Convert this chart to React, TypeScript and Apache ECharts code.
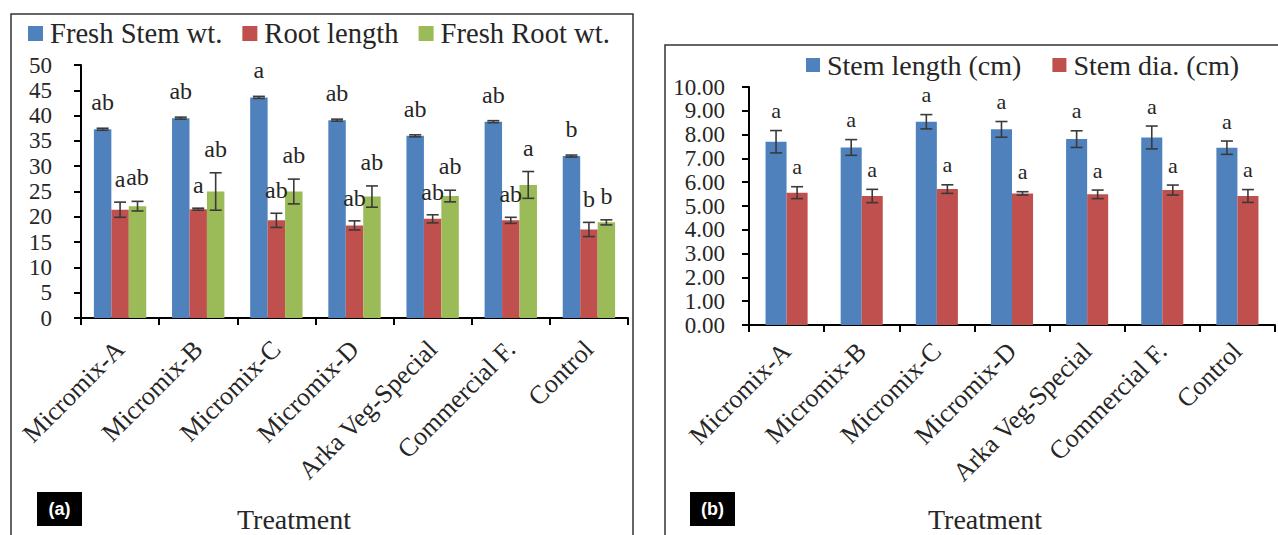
import React, { useEffect, useRef } from "react";
import * as echarts from "echarts";

const categories = ["Micromix-A", "Micromix-B", "Micromix-C", "Micromix-D", "Arka Veg-Special", "Commercial F.", "Control"];

// Panel (a)
const freshStemWt = [37.3, 39.5, 43.6, 39.1, 36.0, 38.8, 32.0];
const freshStemWtErr = [0.2, 0.2, 0.2, 0.2, 0.2, 0.2, 0.2];
const freshStemWtLetters = ["ab", "ab", "a", "ab", "ab", "ab", "b"];
const rootLength = [21.4, 21.5, 19.3, 18.3, 19.6, 19.3, 17.5];
const rootLengthErr = [1.5, 0.2, 1.4, 0.9, 0.8, 0.6, 1.4];
const rootLengthLetters = ["a", "a", "ab", "ab", "ab", "ab", "b"];
const freshRootWt = [22.1, 25.0, 25.0, 24.0, 24.1, 26.3, 18.9];
const freshRootWtErr = [0.95, 3.7, 2.45, 2.1, 1.15, 2.65, 0.5];
const freshRootWtLetters = ["ab", "ab", "ab", "ab", "ab", "a", "b"];

// Panel (b)
const stemLength = [7.7, 7.46, 8.54, 8.22, 7.81, 7.88, 7.45];
const stemLengthErr = [0.47, 0.33, 0.3, 0.33, 0.35, 0.48, 0.28];
const stemLengthLetters = ["a", "a", "a", "a", "a", "a", "a"];
const stemDia = [5.56, 5.42, 5.71, 5.53, 5.49, 5.67, 5.42];
const stemDiaErr = [0.25, 0.28, 0.18, 0.07, 0.18, 0.21, 0.27];
const stemDiaLetters = ["a", "a", "a", "a", "a", "a", "a"];

const BLUE = "#4F81BD";
const RED = "#C0504D";
const GREEN = "#9BBB59";
const SERIF = "Liberation Serif";
const TEXT = "#262626";

function errSeries(values: number[], errs: number[], letters: string[], axis: number, offsetFrac: number, labelOffset: number, fontSize: number) {
  return {
    type: "custom",
    xAxisIndex: axis,
    yAxisIndex: axis,
    silent: true,
    z: 10,
    data: values.map((v, i) => [i, v, errs[i]]),
    encode: { x: 0, y: 1 },
    renderItem: (params: any, api: any) => {
      const i = api.value(0);
      const v = api.value(1);
      const e = api.value(2);
      const top = api.coord([i, v + e]);
      const bot = api.coord([i, v - e]);
      const band = api.size([1, 0])[0];
      const x = top[0] + offsetFrac * band;
      const cap = 6;
      const ls = { stroke: "#3a3a3a", lineWidth: 1.6 };
      return {
        type: "group",
        children: [
          { type: "line", shape: { x1: x, y1: top[1], x2: x, y2: bot[1] }, style: ls },
          { type: "line", shape: { x1: x - cap, y1: top[1], x2: x + cap, y2: top[1] }, style: ls },
          { type: "line", shape: { x1: x - cap, y1: bot[1], x2: x + cap, y2: bot[1] }, style: ls },
          {
            type: "text",
            x: x,
            y: top[1] - labelOffset,
            style: {
              text: letters[params.dataIndex],
              fill: TEXT,
              fontSize: fontSize,
              fontFamily: SERIF,
              align: "center",
              verticalAlign: "middle",
            },
          },
        ],
      };
    },
  };
}

const App: React.FC = () => {
  const ref = useRef<HTMLDivElement>(null);
  useEffect(() => {
    if (!ref.current) return;
    const chart = echarts.init(ref.current, undefined, { renderer: "svg" });
    const axisLine = { show: true, lineStyle: { color: "#000", width: 2 } };
    const axisTick = { show: true, length: 7, lineStyle: { color: "#000", width: 2 } };
    const xAxisCommon = (idx: number, margin: number) => ({
      type: "category",
      gridIndex: idx,
      data: categories,
      axisLine,
      axisTick: { ...axisTick, interval: 0 },
      axisLabel: {
        rotate: 45,
        interval: 0,
        margin: margin,
        fontSize: 26,
        fontFamily: SERIF,
        color: TEXT,
        hideOverlap: false,
      },
      splitLine: { show: false },
    });
    const bw = (1 - 0.33) / 3;
    const option: any = {
      animation: false,
      backgroundColor: "#fff",
      textStyle: { fontFamily: SERIF },
      grid: [
        { left: 81, top: 65, width: 547, height: 253, containLabel: false },
        { left: 749, top: 87, width: 526, height: 238, containLabel: false },
      ],
      legend: [
        {
          left: 28,
          top: 19,
          padding: 0,
          itemWidth: 15,
          itemHeight: 15,
          itemGap: 20,
          icon: "rect",
          data: ["Fresh Stem wt.", "Root length", "Fresh Root wt."],
          textStyle: { fontSize: 28.6, fontFamily: SERIF, color: TEXT, padding: [0, 0, 0, 2] },
        },
        {
          left: 806,
          top: 51,
          padding: 0,
          itemWidth: 14,
          itemHeight: 14,
          itemGap: 31,
          icon: "rect",
          data: ["Stem length (cm)", "Stem dia. (cm)"],
          textStyle: { fontSize: 28, fontFamily: SERIF, color: TEXT, padding: [0, 0, 0, 2] },
        },
      ],
      xAxis: [xAxisCommon(0, 27), xAxisCommon(1, 22)],
      yAxis: [
        {
          type: "value",
          gridIndex: 0,
          min: 0,
          max: 50,
          interval: 5,
          axisLine,
          axisTick: { ...axisTick, length: 7 },
          axisLabel: { fontSize: 23, fontFamily: SERIF, color: TEXT, margin: 29, showMinLabel: true, showMaxLabel: true, hideOverlap: false },
          splitLine: { show: false },
        },
        {
          type: "value",
          gridIndex: 1,
          min: 0,
          max: 10,
          interval: 1,
          axisLine,
          axisTick: { ...axisTick, length: 7 },
          axisLabel: {
            fontSize: 23,
            lineHeight: 20,
            fontFamily: SERIF,
            color: TEXT,
            margin: 24,
            showMinLabel: true,
            showMaxLabel: true,
            hideOverlap: false,
            formatter: (v: number) => v.toFixed(2),
          },
          splitLine: { show: false },
        },
      ],
      series: [
        { name: "Fresh Stem wt.", type: "bar", xAxisIndex: 0, yAxisIndex: 0, data: freshStemWt, itemStyle: { color: BLUE }, barGap: "0%", barCategoryGap: "33%" },
        { name: "Root length", type: "bar", xAxisIndex: 0, yAxisIndex: 0, data: rootLength, itemStyle: { color: RED }, barGap: "0%", barCategoryGap: "33%" },
        { name: "Fresh Root wt.", type: "bar", xAxisIndex: 0, yAxisIndex: 0, data: freshRootWt, itemStyle: { color: GREEN }, barGap: "0%", barCategoryGap: "33%" },
        { name: "Stem length (cm)", type: "bar", xAxisIndex: 1, yAxisIndex: 1, data: stemLength, itemStyle: { color: BLUE }, barGap: "0%", barCategoryGap: "44%" },
        { name: "Stem dia. (cm)", type: "bar", xAxisIndex: 1, yAxisIndex: 1, data: stemDia, itemStyle: { color: RED }, barGap: "0%", barCategoryGap: "44%" },
        errSeries(freshStemWt, freshStemWtErr, freshStemWtLetters, 0, -bw, 26, 24),
        errSeries(rootLength, rootLengthErr, rootLengthLetters, 0, 0, 23, 24),
        errSeries(freshRootWt, freshRootWtErr, freshRootWtLetters, 0, bw, 24, 24),
        errSeries(stemLength, stemLengthErr, stemLengthLetters, 1, -0.14, 20, 22),
        errSeries(stemDia, stemDiaErr, stemDiaLetters, 1, 0.14, 20, 22),
      ],
      graphic: [
        { type: "rect", shape: { x: 11, y: 14, width: 622, height: 540 }, style: { fill: "none", stroke: "#333", lineWidth: 1.5 }, silent: true },
        { type: "rect", shape: { x: 665, y: 45, width: 630, height: 520 }, style: { fill: "none", stroke: "#333", lineWidth: 1.5 }, silent: true },
        { type: "text", x: 294, y: 519, style: { text: "Treatment", fontSize: 28, fontFamily: SERIF, fill: TEXT, align: "center", verticalAlign: "middle" } },
        { type: "text", x: 985, y: 519, style: { text: "Treatment", fontSize: 28, fontFamily: SERIF, fill: TEXT, align: "center", verticalAlign: "middle" } },
        { type: "rect", shape: { x: 37, y: 492, width: 45, height: 34 }, style: { fill: "#000" } },
        { type: "text", x: 59.5, y: 509, style: { text: "(a)", fontSize: 18, fontWeight: "bold", fontFamily: "Liberation Sans", fill: "#fff", align: "center", verticalAlign: "middle" } },
        { type: "rect", shape: { x: 690, y: 492, width: 45, height: 34 }, style: { fill: "#000" } },
        { type: "text", x: 712.5, y: 509, style: { text: "(b)", fontSize: 18, fontWeight: "bold", fontFamily: "Liberation Sans", fill: "#fff", align: "center", verticalAlign: "middle" } },
      ],
    };
    chart.setOption(option);
    return () => chart.dispose();
  }, []);
  return <div ref={ref} style={{ position: "fixed", left: 0, top: 0, width: 1278, height: 535 }} />;
};

export default App;
